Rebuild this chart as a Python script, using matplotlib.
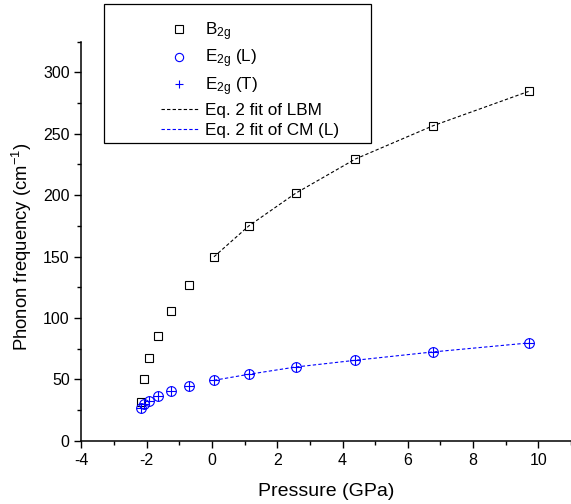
import numpy as np
import matplotlib
matplotlib.use("Agg")
import matplotlib.pyplot as plt
from matplotlib.patches import Rectangle
from matplotlib.ticker import MultipleLocator

plt.rcParams['font.family'] = ['Liberation Sans', 'DejaVu Sans']
plt.rcParams['mathtext.fontset'] = 'custom'
plt.rcParams['mathtext.rm'] = 'Liberation Sans'
plt.rcParams['mathtext.default'] = 'regular'
plt.rcParams['axes.unicode_minus'] = False

# presion (GPa) y frecuencias
presion = [-2.18, -2.09, -1.93, -1.67, -1.27, -0.71, 0.06, 1.13, 2.56, 4.39, 6.77, 9.70]
b2g = [31.3, 50.0, 67.6, 85.5, 105.6, 127.0, 149.8, 175.0, 201.5, 229.4, 256.5, 284.5]
e2g_l = [26.4, 29.9, 32.6, 36.4, 40.2, 44.8, 49.2, 54.1, 60.0, 65.5, 72.3, 79.6]
e2g_t = [26.4, 29.9, 32.6, 36.4, 40.2, 44.8, 49.2, 54.1, 60.0, 65.5, 72.3, 79.6]

# ajuste (Eq. 2) solo para presiones positivas
p_fit = presion[6:]
lbm_fit = b2g[6:]
cm_fit = e2g_l[6:]

fig = plt.figure(figsize=(5.71, 5.04), dpi=100)
ax = fig.add_axes([0.1427, 0.1256, 0.8573, 0.7917])

h1, = ax.plot(presion, b2g, 's', ms=6, mfc='none', mec='black', mew=0.8, ls='none', label='B$_{2g}$')
h2, = ax.plot(presion, e2g_l, 'o', ms=7, mfc='none', mec='blue', mew=0.8, ls='none', label='E$_{2g}$ (L)')
h3, = ax.plot(presion, e2g_t, '+', ms=7, mec='blue', mew=0.8, ls='none', label='E$_{2g}$ (T)')
h4, = ax.plot(p_fit, lbm_fit, color='black', lw=0.8, ls=(0, (3, 2)), label='Eq. 2 fit of LBM')
h5, = ax.plot(p_fit, cm_fit, color='blue', lw=0.8, ls=(0, (3, 2)), label='Eq. 2 fit of CM (L)')

ax.set_xlim(-4, 11)
ax.set_ylim(0, 325)
ax.xaxis.set_major_locator(MultipleLocator(2))
ax.xaxis.set_minor_locator(MultipleLocator(1))
ax.yaxis.set_major_locator(MultipleLocator(50))
ax.yaxis.set_minor_locator(MultipleLocator(25))
ax.spines['top'].set_visible(False)
ax.spines['right'].set_visible(False)
for s in ['left', 'bottom']:
    ax.spines[s].set_linewidth(1.1)
ax.tick_params(which='major', direction='out', length=5, width=1.0, labelsize=11.5)
ax.tick_params(which='minor', direction='out', length=3, width=1.0)

ax.set_xlabel('Pressure (GPa)', fontsize=14, labelpad=11)
ax.set_ylabel('Phonon frequency (cm$^{-1}$)', fontsize=13.3)
ax.yaxis.set_label_coords(-0.097, 0.485)

# caja de la leyenda
fig.patches.append(Rectangle((104 / 571, 1 - 143 / 504), 267 / 571, 139 / 504,
                             transform=fig.transFigure, facecolor='white',
                             edgecolor='black', lw=0.9, zorder=5))
leg = fig.legend(handles=[h1, h2, h3, h4, h5], loc='upper left',
                 bbox_to_anchor=(161 / 571, 1 - 20 / 504), frameon=False,
                 fontsize=12.3, handlelength=2.15, handletextpad=0.45,
                 labelspacing=0.3, borderpad=0, borderaxespad=0, markerscale=0.85)
leg.set_zorder(6)

fig.savefig('out.png', dpi=100)
